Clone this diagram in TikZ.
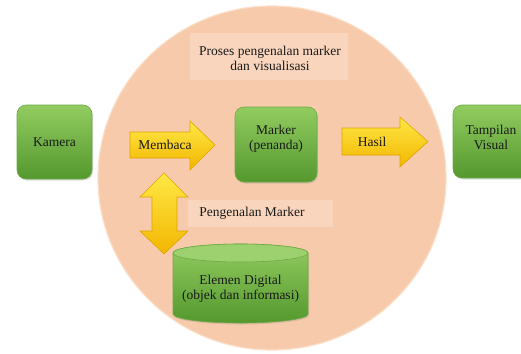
\documentclass[tikz,border=0pt]{standalone}
\usepackage{fontspec}
\setmainfont{Liberation Serif}
\usetikzlibrary{shadows}
\definecolor{peach}{RGB}{247,202,172}
\definecolor{peachedge}{RGB}{250,222,200}
\definecolor{peachlbl}{RGB}{249,213,190}
\definecolor{gtop}{RGB}{146,204,96}
\definecolor{gbot}{RGB}{84,152,46}
\definecolor{gedge}{RGB}{110,170,70}
\definecolor{ytop}{RGB}{255,232,70}
\definecolor{ybot}{RGB}{242,182,0}
\definecolor{yedge}{RGB}{222,165,0}
\tikzset{
  txt/.style={font=\fontsize{13.5}{15}\selectfont, align=center, text=black!90},
  greenbox/.style={rounded corners=9pt, top color=gtop, bottom color=gbot, draw=gedge, line width=0.6pt,
     drop shadow={shadow xshift=1pt, shadow yshift=-1.5pt, opacity=0.25}},
  yarrow/.style={top color=ytop, bottom color=ybot, draw=yedge, line width=0.6pt, line join=miter},
  lblbox/.style={fill=peachlbl, draw=none}
}
\begin{document}
\begin{tikzpicture}[x=1pt,y=-1pt]
\useasboundingbox (0,0) rectangle (521,353);
\clip (0,0) rectangle (521,353);
\fill[white] (0,0) rectangle (521,353);
% big circle
\fill[peach, draw=peachedge, line width=1.2pt] (272,178) ellipse [x radius=174pt, y radius=172pt];
% label backgrounds
\fill[lblbox] (190,33) rectangle (348,80);
\fill[lblbox] (188,200) rectangle (333,227);
\node[txt] (proses) at (270,58) {Proses pengenalan marker\\dan visualisasi};
\node[txt] (peng) at (252,213) {Pengenalan Marker};
% green boxes
\path[greenbox] (17,105) rectangle (92,179);
\node[txt] (kamera) at (54.5,142) {Kamera};
\path[greenbox] (235,107) rectangle (317,182);
\node[txt] (marker) at (276,139) {Marker\\(penanda)};
\path[greenbox] (453,105) rectangle (530,178);
\node[txt] (tampil) at (491,137) {Tampilan\\Visual};
% cylinder
\path[top color=gtop, bottom color=gbot, draw=gedge, line width=0.6pt,
  drop shadow={shadow xshift=1pt, shadow yshift=-1.5pt, opacity=0.25}]
  (173,253) -- (173,314) arc[start angle=180, end angle=360, x radius=67.5pt, y radius=9pt]
  -- (308,253) arc[start angle=0, end angle=180, x radius=67.5pt, y radius=9pt] -- cycle;
\path[fill=gtop!90!white, draw=gedge, line width=0.6pt] (240.5,253) ellipse [x radius=67.5pt, y radius=9pt];
\node[txt] (elemen) at (240.5,289) {Elemen Digital\\(objek dan informasi)};
% Membaca arrow
\path[yarrow] (130,132) -- (190,132) -- (190,121) -- (215,145) -- (190,170) -- (190,158) -- (130,158) -- cycle;
\node[txt] (membaca) at (165,145) {Membaca};
% Hasil arrow
\path[yarrow] (342,128) -- (400,128) -- (400,117) -- (428,141.5) -- (400,167) -- (400,155) -- (342,155) -- cycle;
\node[txt] (hasil) at (372,141.5) {Hasil};
% double arrow
\path[yarrow] (164,173) -- (188,197) -- (177,197) -- (177,231) -- (188,231) -- (164,254)
  -- (140,231) -- (152,231) -- (152,197) -- (140,197) -- cycle;
\coordinate (dtop) at (164,173);
\coordinate (dbot) at (164,254);
\end{tikzpicture}
\end{document}
